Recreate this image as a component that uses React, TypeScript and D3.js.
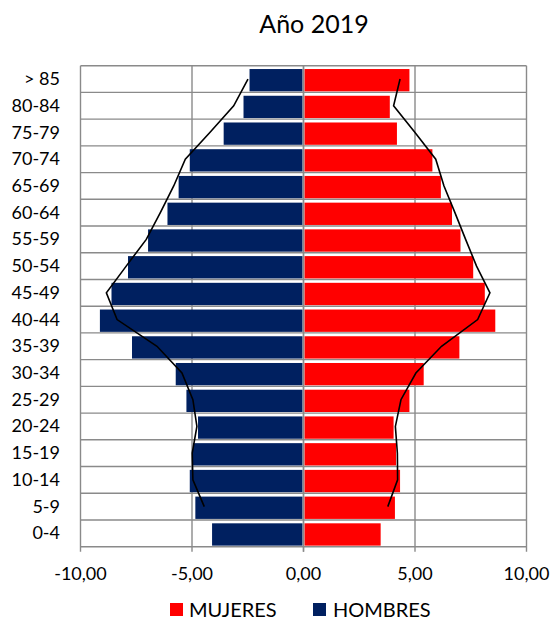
import React from "react";
import * as d3 from "d3";

const categories = ["> 85", "80-84", "75-79", "70-74", "65-69", "60-64", "55-59", "50-54", "45-49",
    "40-44", "35-39", "30-34", "25-29", "20-24", "15-19", "10-14", "5-9", "0-4"];

// % por grupo de edad (hombres en negativo al dibujar)
const hombres = [2.42, 2.69, 3.58, 5.10, 5.60, 6.10, 6.97, 7.87, 8.61,
    9.13, 7.69, 5.73, 5.25, 4.73, 4.96, 5.10, 4.85, 4.10];
const mujeres = [4.75, 3.87, 4.19, 5.78, 6.16, 6.66, 7.04, 7.61, 8.13,
    8.60, 6.99, 5.39, 4.75, 4.04, 4.15, 4.33, 4.10, 3.46];

// perfil de comparación (líneas negras)
const hombresLinea = [2.49, 3.13, 4.20, 5.30, 5.82, 6.42, 7.05, 7.95, 8.84,
    8.36, 6.57, 5.45, 4.96, 4.78, 4.99, 4.96, 4.45, null];
const mujeresLinea = [4.33, 4.04, 5.00, 5.93, 6.30, 6.79, 7.27, 7.76, 8.36,
    7.81, 6.19, 5.04, 4.37, 4.12, 4.21, 4.22, 3.78, null];

const xTicks = [-10, -5, 0, 5, 10];

const FONT = "Lato, 'Open Sans', sans-serif";

const es = d3.formatLocale({ decimal: ",", thousands: ".", grouping: [3], currency: ["", " €"], minus: "-" });
const fmt = es.format(".2f");

export default function App() {
    const width = 555;
    const height = 621;
    const plot = { left: 80.5, right: 526.5, top: 65.7, bottom: 546.7 };

    const x = d3.scaleLinear().domain([-10, 10]).range([plot.left, plot.right]);
    const y = d3.scaleBand<string>().domain(categories).range([plot.top, plot.bottom]).padding(0);
    const bw = y.bandwidth();
    const barY = (c: string) => (y(c) ?? 0) + bw * 0.125;
    const barH = bw * 0.835;

    const line = d3.line<number | null>()
        .defined(d => d !== null)
        .x(d => x(d as number))
        .y((_, i) => (y(categories[i]) ?? 0) + bw / 2);

    const grid = "#8a8a8a";

    return (
        <svg width={width} height={height} style={{ position: "absolute", left: 0, top: 0 }}
            fontFamily={FONT}>
            <rect width={width} height={height} fill="#fff" />
            <text x={314} y={33} textAnchor="middle" fontSize={25} fill="#000">Año 2019</text>

            {/* rejilla */}
            <g stroke={grid} strokeWidth={1.4}>
                {categories.map(c => (
                    <line key={c} x1={plot.left} x2={plot.right} y1={y(c)} y2={y(c)} />
                ))}
                <line x1={plot.left} x2={plot.right} y1={plot.bottom} y2={plot.bottom} />
                {xTicks.map(t => (
                    <line key={t} x1={x(t)} x2={x(t)} y1={plot.top} y2={plot.bottom + 5} />
                ))}
            </g>

            {/* barras */}
            <g>
                {categories.map((c, i) => (
                    <rect key={"h" + c} x={x(-hombres[i])} y={barY(c)}
                        width={x(0) - x(-hombres[i]) - 1} height={barH} fill="#002060" />
                ))}
                {categories.map((c, i) => (
                    <rect key={"m" + c} x={x(0) + 1} y={barY(c)}
                        width={x(mujeres[i]) - x(0) - 1} height={barH} fill="#ff0000" />
                ))}
            </g>
            <line x1={x(0)} x2={x(0)} y1={plot.top} y2={plot.bottom + 5} stroke={grid} strokeWidth={1.4} />

            {/* perfiles */}
            <path d={line(hombresLinea.map(v => (v === null ? null : -v))) ?? ""} fill="none" stroke="#000" strokeWidth={1.6} />
            <path d={line(mujeresLinea) ?? ""} fill="none" stroke="#000" strokeWidth={1.6} />

            {/* etiquetas eje y */}
            <g fontSize={18} fill="#000" textAnchor="end">
                {categories.map(c => (
                    <text key={c} x={60} y={(y(c) ?? 0) + bw / 2 + 6}>{c}</text>
                ))}
            </g>

            {/* etiquetas eje x */}
            <g fontSize={18} fill="#000" textAnchor="middle">
                {xTicks.map(t => (
                    <text key={t} x={x(t)} y={580}>{fmt(t)}</text>
                ))}
            </g>

            {/* leyenda */}
            <g fontSize={20} fill="#000">
                <rect x={170} y={603} width={13} height={13} fill="#ff0000" />
                <text x={189} y={617}>MUJERES</text>
                <rect x={313} y={603} width={13} height={13} fill="#002060" />
                <text x={333} y={617}>HOMBRES</text>
            </g>
        </svg>
    );
}
